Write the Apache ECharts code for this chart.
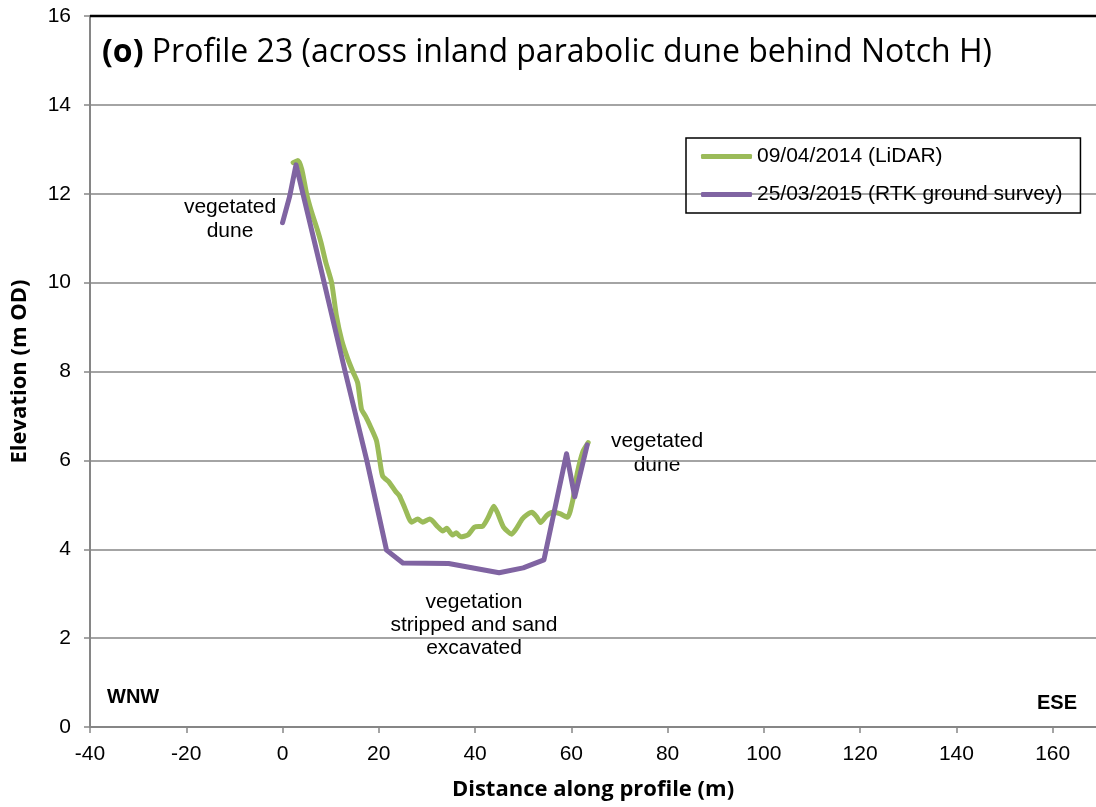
<!DOCTYPE html>
<html>
<head>
<meta charset="utf-8">
<script src="https://cdn.jsdelivr.net/npm/echarts@6/dist/echarts.min.js"></script>
<style>
  html, body { margin: 0; padding: 0; background: #fff; }
  #chart { width: 1096px; height: 807px; }
</style>
</head>
<body>
<div id="chart"></div>
<script>
var NAME_LIDAR = '09/04/2014 (LiDAR)';
var NAME_RTK = '25/03/2015 (RTK ground survey)';

// distance (m), elevation (m OD)
var lidar_x = [2.2, 3.2, 4.0, 5.0, 6.0, 7.2, 8.0, 9.0, 10.2, 11.2, 12.3, 13.5, 14.6, 15.6, 16.4,
    17.2, 18.1, 19.5, 20.2, 20.8, 22.2, 23.5, 24.3, 25.4, 26.8, 28.1, 29.1, 30.6, 32.3, 33.3,
    34.1, 35.3, 36.1, 37.0, 38.5, 39.9, 41.6, 42.8, 43.9, 44.7, 45.9, 47.6, 48.6, 49.8, 50.7,
    51.8, 52.8, 53.6, 54.9, 56.1, 57.6, 59.2, 60.3, 61.2, 62.4, 63.5];
var lidar_y = [12.7, 12.75, 12.55, 12.0, 11.6, 11.2, 10.9, 10.45, 10.0, 9.25, 8.7, 8.3, 8.0, 7.75, 7.15,
    7.0, 6.8, 6.45, 6.0, 5.65, 5.5, 5.3, 5.2, 4.93, 4.61, 4.68, 4.61, 4.68, 4.5, 4.41,
    4.47, 4.32, 4.37, 4.28, 4.32, 4.5, 4.52, 4.73, 4.97, 4.81, 4.5, 4.34, 4.47, 4.68, 4.77,
    4.83, 4.73, 4.6, 4.76, 4.83, 4.8, 4.72, 5.1, 5.7, 6.2, 6.4];

var rtk_x = [0, 1.5, 2.8, 8.0, 13.0, 17.5, 21.6, 25.0, 34.5, 45.0, 50.0, 54.3, 59.0, 60.7, 63.3];
var rtk_y = [11.35, 11.95, 12.65, 10.3, 8.0, 6.0, 3.98, 3.69, 3.68, 3.47, 3.58, 3.76, 6.15, 5.18, 6.35];

var x_ticks = [-40, -20, 0, 20, 40, 60, 80, 100, 120, 140, 160];

function pairs(xs, ys) {
    var out = [];
    xs.forEach(function (x, i) { out.push([x, ys[i]]); });
    return out;
}

var FONT = '"Liberation Sans", Arial, sans-serif';
var TITLE_FONT = '"Open Sans", sans-serif';

var myChart = echarts.init(document.getElementById('chart'));

var option = {
    animation: false,
    color: ['#9BBB59', '#8064A2'],
    grid: { left: 90, top: 16, right: 0, bottom: 80, containLabel: false, outerBoundsMode: 'none' },
    legend: {
        orient: 'vertical',
        left: 686,
        top: 138,
        width: 400,
        padding: [8, 18, 8, 15],
        borderColor: '#000',
        borderWidth: 1.5,
        itemWidth: 51,
        itemHeight: 5,
        itemGap: 17,
        icon: 'roundRect',
        textStyle: { fontFamily: FONT, fontSize: 21, color: '#000' },
        data: [NAME_LIDAR, NAME_RTK]
    },
    xAxis: {
        type: 'value',
        min: -40,
        max: 169,
        interval: 20,
        name: 'Distance along profile (m)',
        nameLocation: 'middle',
        nameGap: 52,
        nameTextStyle: { fontFamily: TITLE_FONT, fontWeight: 'bold', fontSize: 22, color: '#000' },
        axisLine: { onZero: false, lineStyle: { color: '#868686', width: 2 } },
        axisTick: { show: true, length: 6, customValues: x_ticks, lineStyle: { color: '#868686', width: 1.5 } },
        axisLabel: {
            margin: 17,
            customValues: x_ticks,
            fontFamily: FONT, fontSize: 21, color: '#000'
        },
        splitLine: { show: false }
    },
    yAxis: {
        type: 'value',
        min: 0,
        max: 16,
        interval: 2,
        name: 'Elevation (m OD)',
        nameLocation: 'middle',
        nameGap: 59,
        nameTextStyle: { fontFamily: TITLE_FONT, fontWeight: 'bold', fontSize: 22, color: '#000' },
        axisLine: { show: true, onZero: false, lineStyle: { color: '#868686', width: 2 } },
        axisTick: { show: true, length: 6, lineStyle: { color: '#868686', width: 1.5 } },
        axisLabel: { margin: 19, fontFamily: FONT, fontSize: 21, color: '#000' },
        splitLine: { lineStyle: { color: '#868686', width: 1.5 } }
    },
    series: [
        {
            name: NAME_LIDAR,
            type: 'line',
            data: pairs(lidar_x, lidar_y),
            showSymbol: false,
            symbol: 'none',
            smooth: 0.2,
            lineStyle: { width: 5, color: '#9BBB59', cap: 'round', join: 'round' },
            z: 3
        },
        {
            name: NAME_RTK,
            type: 'line',
            data: pairs(rtk_x, rtk_y),
            showSymbol: false,
            symbol: 'none',
            lineStyle: { width: 5, color: '#8064A2', cap: 'round', join: 'round' },
            z: 4
        }
    ],
    graphic: [
        { type: 'line', shape: { x1: 90, y1: 16, x2: 1096, y2: 16 }, style: { stroke: '#000', lineWidth: 2.5 }, z: 10 },
        { type: 'text', left: 102, top: 37, style: {
            text: '{b|(o)} Profile 23 (across inland parabolic dune behind Notch H)',
            font: '32px ' + TITLE_FONT, fill: '#000',
            rich: { b: { fontFamily: TITLE_FONT, fontSize: 32, fontWeight: 'bold', fill: '#000' } }
        } },
        { type: 'text', x: 230, y: 219, style: { text: 'vegetated\ndune', font: '21px ' + FONT, fill: '#000', align: 'center', verticalAlign: 'middle', lineHeight: 24 } },
        { type: 'text', x: 657, y: 453, style: { text: 'vegetated\ndune', font: '21px ' + FONT, fill: '#000', align: 'center', verticalAlign: 'middle', lineHeight: 24 } },
        { type: 'text', x: 474, y: 625, style: { text: 'vegetation\nstripped and sand\nexcavated', font: '21px ' + FONT, fill: '#000', align: 'center', verticalAlign: 'middle', lineHeight: 23 } },
        { type: 'text', x: 107, y: 697, style: { text: 'WNW', font: 'bold 20px ' + FONT, fill: '#000', verticalAlign: 'middle' } },
        { type: 'text', x: 1077, y: 703, style: { text: 'ESE', font: 'bold 20px ' + FONT, fill: '#000', align: 'right', verticalAlign: 'middle' } }
    ]
};
myChart.setOption(option);
</script>
</body>
</html>
